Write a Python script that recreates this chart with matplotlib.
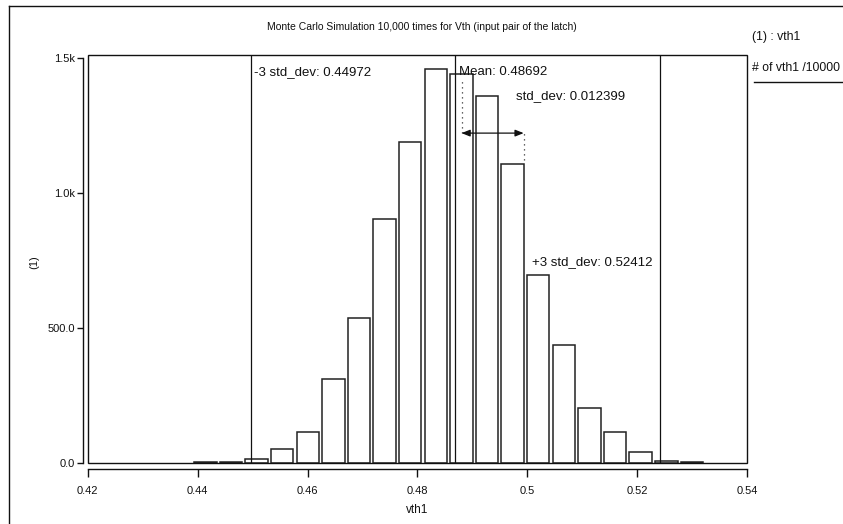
import matplotlib
matplotlib.use("Agg")
import matplotlib.pyplot as plt
import numpy as np
from matplotlib.lines import Line2D
from matplotlib.patches import Rectangle

plt.rcParams['font.family'] = ['Liberation Sans', 'DejaVu Sans']

# Histogram of 10,000 Monte Carlo samples of vth1
bin_start = 0.43910
bin_width = 0.004657
counts = [3, 3, 17, 53, 115, 311, 536, 903, 1188, 1458,
          1438, 1360, 1105, 696, 437, 206, 116, 42, 7, 3]

mean_val = 0.48692
std_val = 0.012399
minus3 = 0.44972
plus3 = 0.52412

x_ticks = [0.42, 0.44, 0.46, 0.48, 0.50, 0.52, 0.54]
x_ticklabels = ['0.42', '0.44', '0.46', '0.48', '0.5', '0.52', '0.54']
y_ticks = [0, 500, 1000, 1500]
y_ticklabels = ['0.0', '500.0', '1.0k', '1.5k']

W, H = 843, 524
fig = plt.figure(figsize=(W / 100, H / 100), dpi=100)
fig.patch.set_facecolor('white')

def fx(px):
    return px / W

def fy(py):
    return 1 - py / H

left, right, top, bottom = 87.6, 747.3, 55.5, 463.3
ax = fig.add_axes([fx(left), fy(bottom), fx(right - left), (bottom - top) / H])
ax.set_xlim(0.42, 0.54)
ax.set_ylim(0, 1508)
ax.set_facecolor('white')

centers = bin_start + bin_width * (np.arange(len(counts)) + 0.5)
ax.bar(centers, counts, width=bin_width * 0.88, facecolor='white',
       edgecolor='#222222', linewidth=1.1, zorder=2)

for xv in (minus3, mean_val, plus3):
    ax.axvline(xv, color='#111111', linewidth=0.9, zorder=3)

# plot frame
ax.add_patch(Rectangle((0, 0), 1, 1, transform=ax.transAxes, fill=False,
                       edgecolor='#111111', linewidth=1.0, zorder=4, clip_on=False))

for s in ('top', 'right'):
    ax.spines[s].set_visible(False)
ax.spines['left'].set_position(('outward', 3.3))
ax.spines['bottom'].set_position(('outward', 4.2))
ax.spines['left'].set_bounds(0, 1500)
ax.spines['bottom'].set_bounds(0.42, 0.54)
for s in ('left', 'bottom'):
    ax.spines[s].set_linewidth(1.0)
    ax.spines[s].set_color('#111111')

ax.set_xticks(x_ticks)
ax.set_xticklabels(x_ticklabels)
ax.set_yticks(y_ticks)
ax.set_yticklabels(y_ticklabels)
ax.tick_params(axis='x', direction='out', length=6, width=1.0, pad=6, labelsize=8, colors='#111111')
ax.tick_params(axis='y', direction='out', length=4, width=1.0, pad=2, labelsize=8, colors='#111111')

# std_dev marker: dotted guides and double arrow
y_arrow = 1221
ax.plot([mean_val + 0.0011] * 2, [y_arrow, 1425], linestyle=(0, (1, 3)),
        color='#333333', linewidth=0.9, zorder=5)
ax.plot([mean_val + std_val] * 2, [1121, y_arrow], linestyle=(0, (1, 3)),
        color='#333333', linewidth=0.9, zorder=5)
ax.annotate('', xy=(mean_val + std_val, y_arrow), xytext=(mean_val + 0.0011, y_arrow),
            arrowprops=dict(arrowstyle='<|-|>,head_length=0.5,head_width=0.2',
                            color='#111111', linewidth=0.9, shrinkA=0, shrinkB=0),
            zorder=6)

txt = dict(fontsize=9.5, color='#111111', va='center', ha='left', zorder=7)
ax.text(minus3 + 0.0006, 1447, f'-3 std_dev: {minus3:.5f}', **txt)
ax.text(mean_val + 0.0006, 1447, f'Mean: {mean_val:.5f}', **txt)
ax.text(0.49795, 1358, f'std_dev: {std_val}', **txt)
ax.text(0.50085, 744, f'+3 std_dev: {plus3:.5f}', **txt)

fig.text(fx(422), fy(27), 'Monte Carlo Simulation 10,000 times for Vth (input pair of the latch)',
         ha='center', va='center', fontsize=7.5, color='#111111')
fig.text(fx(417), fy(510), 'vth1', ha='center', va='center', fontsize=8.5, color='#111111')
fig.text(fx(34), fy(262), '(1)', ha='center', va='center', rotation=90, fontsize=8, color='#111111')

fig.text(fx(752), fy(37), '(1) : vth1', ha='left', va='center', fontsize=8.8, color='#111111')
fig.text(fx(752), fy(68), '# of vth1 /10000', ha='left', va='center', fontsize=8.8, color='#111111')
fig.add_artist(Line2D([fx(754), fx(843)], [fy(82), fy(82)], color='#111111', linewidth=1.0))

# outer border
fig.add_artist(Line2D([fx(9), fx(843)], [fy(6), fy(6)], color='#111111', linewidth=1.0))
fig.add_artist(Line2D([fx(9), fx(9)], [fy(6), fy(524)], color='#111111', linewidth=1.0))

fig.savefig('out.png', dpi=100, facecolor='white')
